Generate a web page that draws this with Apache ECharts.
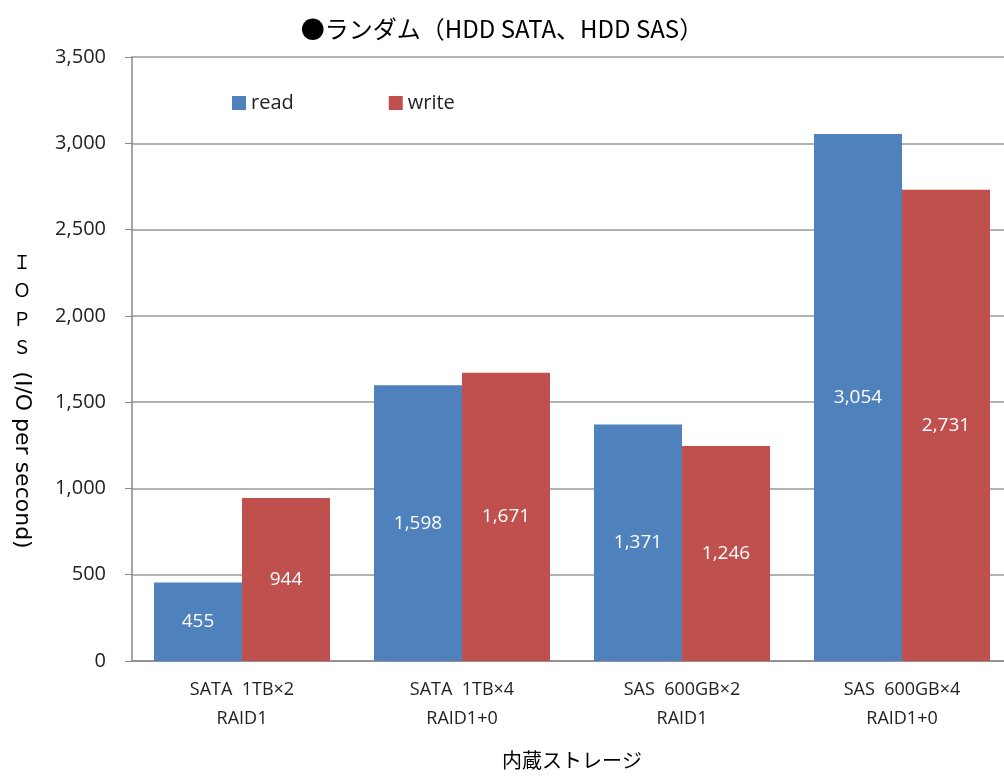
<!DOCTYPE html>
<html>
<head>
<meta charset="utf-8">
<script src="https://cdn.jsdelivr.net/npm/echarts@6/dist/echarts.min.js"></script>
<style>
html, body { margin: 0; padding: 0; background: #fff; }
#main { width: 1004px; height: 776px; }
</style>
</head>
<body>
<div id="main"></div>
<script>
// ランダムIOPS
var categories = ['SATA  1TB×2\nRAID1', 'SATA  1TB×4\nRAID1+0', 'SAS  600GB×2\nRAID1', 'SAS  600GB×4\nRAID1+0'];
var readValues = [455, 1598, 1371, 3054];
var writeValues = [944, 1671, 1246, 2731];
var yTicks = [0, 500, 1000, 1500, 2000, 2500, 3000, 3500];

var fontJP = '"Noto Sans CJK JP", sans-serif';
var fontEN = '"Open Sans", "Noto Sans", sans-serif';

function fmt(v) { return v.toLocaleString('en-US'); }

var chart = echarts.init(document.getElementById('main'));
var option = {
    animation: false,
    textStyle: { fontFamily: fontEN },
    title: {
        text: '●ランダム（HDD SATA、HDD SAS）',
        left: 'center',
        top: 12,
        textStyle: { fontSize: 24, fontWeight: 'normal', color: '#000', fontFamily: fontJP }
    },
    legend: {
        left: 227,
        top: 88,
        itemWidth: 14,
        itemHeight: 14,
        itemGap: 95,
        icon: 'rect',
        textStyle: { fontSize: 20, color: '#222', fontFamily: fontEN },
        data: ['read', 'write']
    },
    grid: {
        left: 132,
        top: 57,
        width: 880,
        height: 604,
        containLabel: false,
        outerBoundsMode: 'none'
    },
    xAxis: {
        type: 'category',
        data: categories,
        name: '内蔵ストレージ',
        nameLocation: 'middle',
        nameGap: 89,
        nameTextStyle: { fontSize: 20, color: '#000', fontFamily: fontJP },
        axisLine: { lineStyle: { color: '#888', width: 1.5 } },
        axisTick: { length: 7, lineStyle: { color: '#888' } },
        axisLabel: { fontSize: 18, color: '#222', lineHeight: 29, margin: 14 }
    },
    yAxis: {
        type: 'value',
        min: yTicks[0],
        max: yTicks[yTicks.length - 1],
        interval: 500,
        axisLine: { show: true, lineStyle: { color: '#888', width: 1.5 } },
        axisTick: { show: true, inside: false, length: 7, lineStyle: { color: '#888' } },
        splitLine: { lineStyle: { color: '#999', width: 1.5 } },
        axisLabel: {
            fontSize: 20,
            color: '#222',
            margin: 26,
            formatter: fmt
        }
    },
    series: [
        {
            name: 'read',
            type: 'bar',
            data: readValues,
            barGap: '0%',
            barCategoryGap: '20%',
            itemStyle: { color: '#4F81BD' },
            label: {
                show: true,
                position: 'inside',
                color: '#fff',
                fontSize: 19,
                formatter: function (p) { return fmt(p.value); }
            }
        },
        {
            name: 'write',
            type: 'bar',
            data: writeValues,
            itemStyle: { color: '#C0504D' },
            label: {
                show: true,
                position: 'inside',
                color: '#fff',
                fontSize: 19,
                formatter: function (p) { return fmt(p.value); }
            }
        }
    ],
    graphic: [
        { type: 'text', x: 22, y: 262, style: { text: 'Ｉ', font: '18px ' + fontJP, fill: '#000', align: 'center', verticalAlign: 'middle' } },
        { type: 'text', x: 22, y: 290, style: { text: 'Ｏ', font: '18px ' + fontJP, fill: '#000', align: 'center', verticalAlign: 'middle' } },
        { type: 'text', x: 22, y: 319, style: { text: 'Ｐ', font: '18px ' + fontJP, fill: '#000', align: 'center', verticalAlign: 'middle' } },
        { type: 'text', x: 22, y: 347, style: { text: 'Ｓ', font: '18px ' + fontJP, fill: '#000', align: 'center', verticalAlign: 'middle' } },
        {
            type: 'text',
            x: 22,
            y: 460,
            rotation: -Math.PI / 2,
            style: {
                text: '(I/O per second)',
                font: '22px "DejaVu Sans", sans-serif',
                fill: '#000',
                align: 'center',
                verticalAlign: 'middle'
            }
        }
    ]
};
chart.setOption(option);
</script>
</body>
</html>
